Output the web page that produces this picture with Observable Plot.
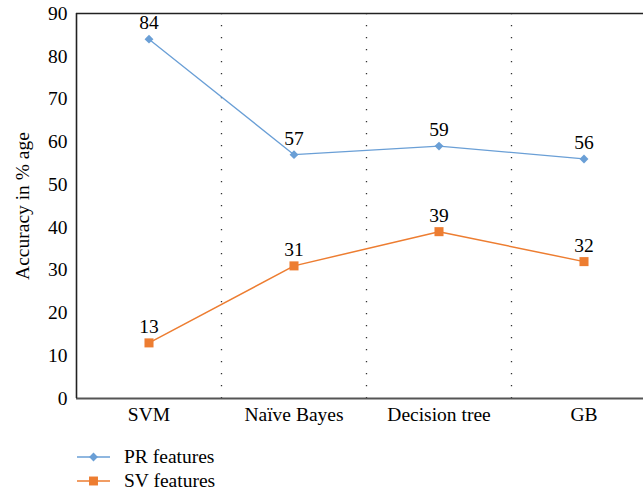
<!DOCTYPE html>
<html>
<head>
<meta charset="utf-8">
<script src="https://cdn.jsdelivr.net/npm/d3@7"></script>
<script src="https://cdn.jsdelivr.net/npm/@observablehq/plot@0.6"></script>
<style>
  body { margin: 0; background: white; font-family: "Liberation Serif", "Times New Roman", serif; }
  #chart svg, #chart svg text, #chart svg g { font-family: "Liberation Serif", "Times New Roman", serif !important; }
  #chart svg text { font-size: 19.5px !important; fill: #000; }
  #legend { margin-top: 5px; padding-left: 77px; }
  .row { display: flex; align-items: center; height: 24px; font-size: 19.5px; color: #000; }
  .row svg { margin-right: 14px; }
</style>
</head>
<body>
<div id="chart"></div>
<div id="legend"></div>
<script>
const models = ["SVM", "Naïve Bayes", "Decision tree", "GB"];
const prValues = [84, 57, 59, 56];
const svValues = [13, 31, 39, 32];
const seriesNames = ["PR features", "SV features"];
const seriesColors = ["#6a9fd6", "#ed7d31"];
const yTicks = [0, 10, 20, 30, 40, 50, 60, 70, 80, 90];

const pr = models.map((m, i) => ({i, model: m, value: prValues[i]}));
const sv = models.map((m, i) => ({i, model: m, value: svValues[i]}));
const dividers = models.slice(1).map((m, i) => i + 0.5);

const font = "Liberation Serif";

const chart = Plot.plot({
  width: 643,
  height: 440,
  marginLeft: 76,
  marginRight: 0,
  marginTop: 13,
  marginBottom: 42,
  style: {fontFamily: font, fontSize: "19.5px", color: "#000", background: "white", overflow: "visible"},
  x: {type: "linear", domain: [-0.5, models.length - 0.5], range: [76, 76 + 145 * models.length]},
  y: {domain: [0, 90]},
  marks: [
    Plot.ruleX(dividers, {stroke: "#333", strokeWidth: 1.3, strokeDasharray: "1.3,10.7"}),
    Plot.ruleY([90], {stroke: "#222", strokeWidth: 1.4}),
    Plot.ruleY([0], {stroke: "#555", strokeWidth: 2}),
    Plot.ruleX([-0.5], {stroke: "#222", strokeWidth: 1.6}),
    Plot.axisY({ticks: yTicks, tickSize: 0, tickPadding: 9, label: null, fontSize: 19.5, fontFamily: font}),
    Plot.axisX({ticks: models.map((m, i) => i), tickFormat: i => models[i], tickSize: 0, tickPadding: 9, label: null, fontSize: 19.5, fontFamily: font}),
    Plot.text(["Accuracy in % age"], {frameAnchor: "left", textAnchor: "middle", rotate: -90, dx: -54, fontSize: 19.5, fontFamily: font, fill: "#000"}),
    Plot.line(pr, {x: "i", y: "value", stroke: seriesColors[0], strokeWidth: 1.3}),
    Plot.line(sv, {x: "i", y: "value", stroke: seriesColors[1], strokeWidth: 1.5}),
    Plot.dot(pr, {x: "i", y: "value", symbol: "diamond2", r: 4, fill: seriesColors[0], stroke: "none"}),
    Plot.dot(sv, {x: "i", y: "value", symbol: "square", r: 5.1, fill: seriesColors[1], stroke: "none"}),
    Plot.text(pr, {x: "i", y: "value", text: d => String(d.value), lineAnchor: "bottom", dy: -10, fontSize: 19.5, fontFamily: font, fill: "#000"}),
    Plot.text(sv, {x: "i", y: "value", text: d => String(d.value), lineAnchor: "bottom", dy: -10, fontSize: 19.5, fontFamily: font, fill: "#000"})
  ]
});
document.getElementById("chart").appendChild(chart);

const legend = document.getElementById("legend");
const symbols = [d3.symbolDiamond2, d3.symbolSquare];
const sizes = [50, 80];
seriesNames.forEach((name, k) => {
  const row = document.createElement("div");
  row.className = "row";
  const svg = d3.create("svg").attr("width", 33).attr("height", 12);
  svg.append("line").attr("x1", 0).attr("x2", 33).attr("y1", 6).attr("y2", 6)
    .attr("stroke", seriesColors[k]).attr("stroke-width", 1.5);
  svg.append("path").attr("d", d3.symbol(symbols[k], sizes[k])()).attr("transform", "translate(16.5,6)")
    .attr("fill", seriesColors[k]);
  row.appendChild(svg.node());
  const span = document.createElement("span");
  span.textContent = name;
  row.appendChild(span);
  legend.appendChild(row);
});
</script>
</body>
</html>
